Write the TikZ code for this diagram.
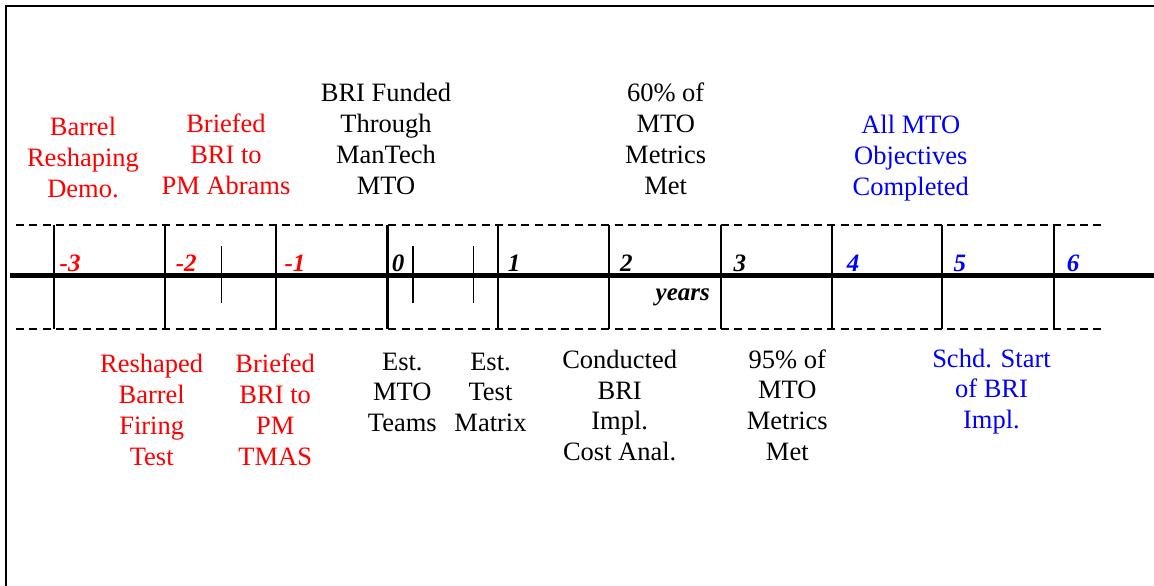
\documentclass[tikz,border=0pt]{standalone}
\usepackage{fontspec}
\setmainfont{Liberation Serif}
\definecolor{evred}{RGB}{255,0,0}
\definecolor{evblue}{RGB}{0,0,255}
\begin{document}
\begin{tikzpicture}[x=1pt,y=-1pt,
  evt/.style={align=center, inner sep=0pt, anchor=base, font=\fontsize{26.5}{30.8}\selectfont},
  yr/.style={inner sep=0pt, anchor=base west, font=\fontsize{25}{30}\selectfont\bfseries\itshape},
  major/.style={line width=2pt},
  minor/.style={line width=1.6pt},
  guide/.style={line width=1.8pt, dash pattern=on 8pt off 5.3pt},
  axis/.style={line width=5.5pt},
  frame/.style={line width=2pt}]
\useasboundingbox (0,0) rectangle (1154,586);
% frame (top and left edges)
\coordinate (fbl) at (6,600);
\coordinate (ftl) at (6,6);
\coordinate (ftr) at (1170,6);
\draw[frame] (fbl) -- (ftl) -- (ftr);
% guide lines
\coordinate (gtl) at (16,224.7);
\coordinate (gtr) at (1102,224.7);
\coordinate (gbl) at (16,329.3);
\coordinate (gbr) at (1102,329.3);
\draw[guide] (gtl) -- (gtr);
\draw[guide] (gbl) -- (gbr);
% major ticks
\foreach \n/\x in {a/53.5,b/164.5,c/275.5,e/497.5,f/609,g/720.7,h/832,i/942.3,j/1054.3}{
  \coordinate (t\n) at (\x,224.7);
  \coordinate (b\n) at (\x,329.3);
  \draw[major] (t\n) -- (b\n);
}
\coordinate (td) at (387.5,224.7);
\coordinate (bd) at (387.5,329.3);
\draw[line width=2.8pt] (td) -- (bd);
% minor ticks
\foreach \n/\x in {p/221.3,q/412.7,r/473.3}{
  \coordinate (mt\n) at (\x,246);
  \coordinate (mb\n) at (\x,303);
  \draw[minor] (mt\n) -- (mb\n);
}
% axis
\coordinate (axl) at (10,275.5);
\coordinate (axr) at (1160,275.5);
\draw[axis] (axl) -- (axr);
% year labels
\node[yr, text=evred] (ym3) at (59.5,271) {-3};
\node[yr, text=evred] (ym2) at (175.7,271) {-2};
\node[yr, text=evred] (ym1) at (284.3,271) {-1};
\node[yr] (y0) at (391.7,271) {0};
\node[yr] (y1) at (507.7,271) {1};
\node[yr] (y2) at (620,271) {2};
\node[yr] (y3) at (733.3,271) {3};
\node[yr, text=evblue] (y4) at (846.7,271) {4};
\node[yr, text=evblue] (y5) at (953.3,271) {5};
\node[yr, text=evblue] (y6) at (1066.7,271) {6};
\node[yr, anchor=base east] (years) at (710,300.5) {years};
% events above (anchored at the baseline of the last line)
\node[evt, text=evred] (e1) at (83,197.3) {Barrel\\Reshaping\\Demo.};
\node[evt, text=evred] (e2) at (226,194.3) {Briefed\\BRI to\\PM Abrams};
\node[evt] (e3) at (386,194.3) {BRI Funded\\Through\\ManTech\\MTO};
\node[evt] (e4) at (665.7,194.3) {60\% of\\MTO\\Metrics\\Met};
\node[evt, text=evblue] (e5) at (910.8,195) {All MTO\\Objectives\\Completed};
% events below
\node[evt, text=evred] (f1) at (151.7,465) {Reshaped\\Barrel\\Firing\\Test};
\node[evt, text=evred] (f2) at (275.2,465) {Briefed\\BRI to\\PM\\TMAS};
\node[evt] (f3) at (402.3,431.7) {Est.\\MTO\\Teams};
\node[evt] (f4) at (490.5,431.7) {Est.\\Test\\Matrix};
\node[evt] (f5) at (619.7,460.7) {Conducted\\BRI\\Impl.\\Cost Anal.};
\node[evt] (f6) at (787.3,460.5) {95\% of\\MTO\\Metrics\\Met};
\node[evt, text=evblue] (f7) at (991.5,428.7) {Schd. Start\\of BRI\\Impl.};
\end{tikzpicture}
\end{document}
